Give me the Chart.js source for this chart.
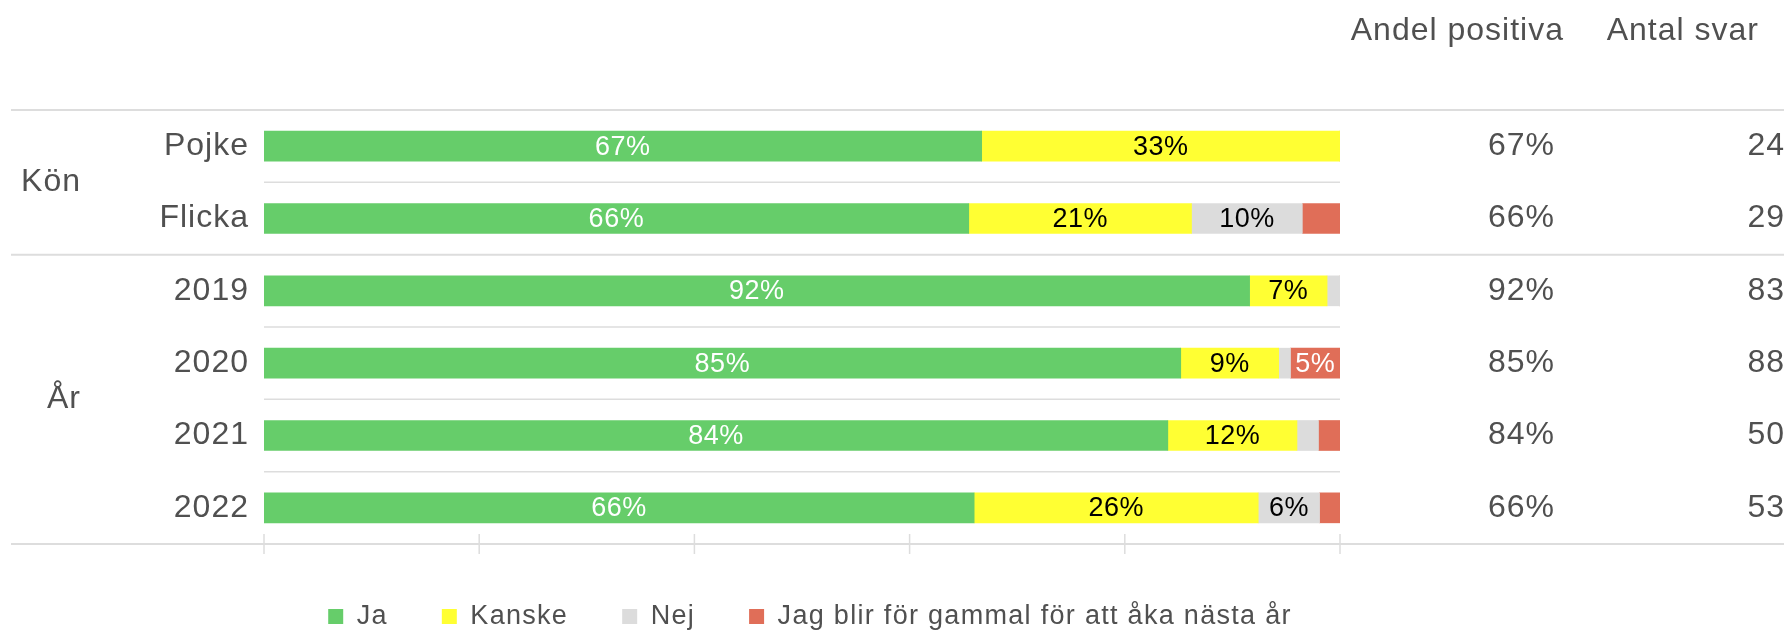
<!DOCTYPE html>
<html>
<head>
<meta charset="utf-8">
<script src="https://cdn.jsdelivr.net/npm/chart.js@4.4.0/dist/chart.umd.min.js"></script>
<style>
  html, body { margin: 0; padding: 0; background: #fff; }
  #chart { display: block; }
</style>
</head>
<body>
<canvas id="chart" width="1784" height="631"></canvas>
<script>
const categories = ["Pojke", "Flicka", "2019", "2020", "2021", "2022"];
const groupLabels = ["Kön", "År"];
const groupSizes = [2, 4];
const ja = [66.7, 65.5, 91.6, 85.2, 84.0, 66.0];
const kanske = [33.3, 20.7, 7.2, 9.1, 12.0, 26.4];
const nej = [0, 10.3, 1.2, 1.1, 2.0, 5.7];
const gammal = [0, 3.5, 0, 4.6, 2.0, 1.9];
const andelPositiva = [67, 66, 92, 85, 84, 66];
const antalSvar = [24, 29, 83, 88, 50, 53];
const xTicks = [0, 20, 40, 60, 80, 100];

const FONT = "'Liberation Sans', Arial, Helvetica, sans-serif";
const LINE = "#dddddd";
const TEXT = "#505050";

const data = {
  labels: categories,
  datasets: [
    { label: "Ja", data: ja, backgroundColor: "#66cd6a", labelColor: "#ffffff" },
    { label: "Kanske", data: kanske, backgroundColor: "#ffff33", labelColor: "#000000" },
    { label: "Nej", data: nej, backgroundColor: "#dcdcdc", labelColor: "#000000" },
    { label: "Jag blir för gammal för att åka nästa år", data: gammal, backgroundColor: "#e06e58", labelColor: "#ffffff" },
  ],
};

// the reference text is slightly letter-spaced
const spacing = {
  id: "spacing",
  beforeDraw(chart) { chart.ctx.letterSpacing = "1px"; },
};

// horizontal table lines + the little tick marks on the bottom line
const tableLines = {
  id: "tableLines",
  beforeDatasetsDraw(chart) {
    const { ctx, chartArea: { left, right, top, bottom }, scales: { x, y } } = chart;
    const step = y.getPixelForValue(1) - y.getPixelForValue(0);
    const breaks = [];
    let n = 0;
    groupSizes.forEach((s) => { n += s; breaks.push(n); });

    const hline = (x0, x1, yy, w) => {
      ctx.lineWidth = w;
      ctx.beginPath();
      ctx.moveTo(x0, yy);
      ctx.lineTo(x1, yy);
      ctx.stroke();
    };

    ctx.save();
    ctx.strokeStyle = LINE;
    for (let i = 1; i < categories.length; i++) {
      const yy = y.getPixelForValue(i) - step / 2;
      if (breaks.includes(i)) hline(11, chart.width, yy, 2);
      else hline(left, right, yy, 1.5);
    }
    hline(11, chart.width, top, 2);
    hline(11, chart.width, bottom, 2);

    ctx.lineWidth = 1.5;
    xTicks.forEach((v) => {
      const xx = x.getPixelForValue(v);
      ctx.beginPath();
      ctx.moveTo(xx, bottom - 10);
      ctx.lineTo(xx, bottom + 10);
      ctx.stroke();
    });
    ctx.restore();
  },
};

const barLabels = {
  id: "barLabels",
  afterDatasetsDraw(chart) {
    const { ctx } = chart;
    ctx.save();
    ctx.font = `27px ${FONT}`;
    ctx.letterSpacing = "0.5px";
    ctx.textAlign = "center";
    ctx.textBaseline = "middle";
    chart.data.datasets.forEach((ds, di) => {
      chart.getDatasetMeta(di).data.forEach((bar, i) => {
        const v = ds.data[i];
        if (v < 4.5) return;
        ctx.fillStyle = ds.labelColor;
        ctx.fillText(`${Math.round(v)}%`, (bar.x + bar.base) / 2, bar.y + 1);
      });
    });
    ctx.restore();
  },
};

// group labels on the left, the two extra columns on the right
const sideTable = {
  id: "sideTable",
  afterDraw(chart) {
    const { ctx, scales: { y } } = chart;
    ctx.save();
    ctx.font = `32px ${FONT}`;
    ctx.letterSpacing = "1px";
    ctx.fillStyle = TEXT;
    ctx.textBaseline = "middle";
    ctx.textAlign = "right";

    ctx.fillText("Andel positiva", 1564, 31);
    ctx.fillText("Antal svar", 1759, 31);

    let start = 0;
    groupLabels.forEach((g, gi) => {
      const end = start + groupSizes[gi] - 1;
      const yy = (y.getPixelForValue(start) + y.getPixelForValue(end)) / 2;
      ctx.fillText(g, 81, yy);
      start = end + 1;
    });

    categories.forEach((c, i) => {
      const yy = y.getPixelForValue(i);
      ctx.fillText(`${andelPositiva[i]}%`, 1555, yy);
      ctx.fillText(`${antalSvar[i]}`, 1785, yy);
    });
    ctx.restore();
  },
};

const legendPlace = {
  id: "legendPlace",
  afterInit(chart) {
    const lg = chart.legend;
    const originalFit = lg.fit;
    const originalDraw = lg.draw;
    lg.fit = function fit() {
      this.ctx.letterSpacing = "1.3px";
      if (originalFit) originalFit.call(this);
      this.height = 87;
    };
    lg.draw = function draw() {
      this.ctx.save();
      this.ctx.letterSpacing = "1.3px";
      originalDraw.call(this);
      this.ctx.restore();
    };
  },
  afterLayout(chart) {
    const lg = chart.legend;
    lg.left = 110;
    lg.right = 1510;
    lg.top = chart.chartArea.bottom + 5;
  },
};

const config = {
  type: "bar",
  data: data,
  options: {
    indexAxis: "y",
    responsive: false,
    animation: false,
    layout: { padding: { top: 110, right: 444, bottom: 0, left: 0 } },
    datasets: { bar: { barThickness: 30, borderWidth: 0 } },
    scales: {
      x: { stacked: true, min: 0, max: 100, display: false },
      y: {
        stacked: true,
        grid: { display: false, drawTicks: false },
        border: { display: false },
        ticks: { font: { size: 32, family: FONT }, color: TEXT, padding: 15 },
        afterFit(scale) { scale.width = 264; },
      },
    },
    plugins: {
      tooltip: { enabled: false },
      legend: {
        position: "bottom",
        labels: {
          font: { size: 27, family: FONT },
          color: TEXT,
          boxWidth: 15,
          boxHeight: 15,
          padding: 54,
        },
      },
    },
  },
  plugins: [spacing, tableLines, barLabels, sideTable, legendPlace],
};

const chart = new Chart(document.getElementById("chart"), config);
</script>
</body>
</html>
